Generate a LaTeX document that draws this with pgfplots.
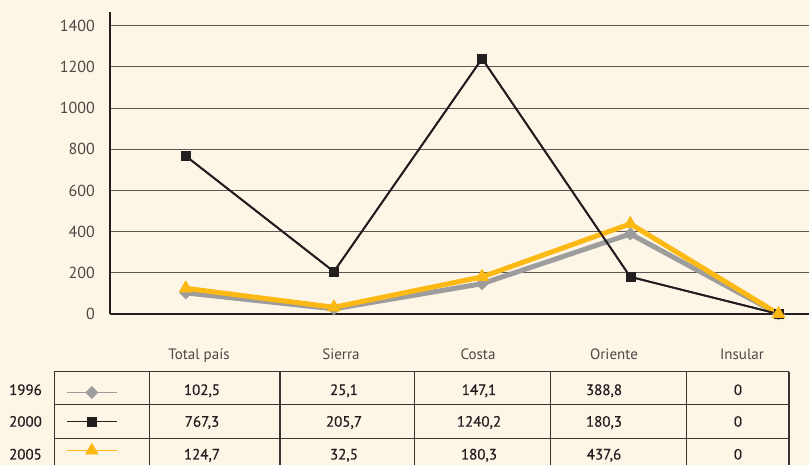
\documentclass[border=0pt]{standalone}
\usepackage{fontspec}
\setmainfont{PT Sans}
\newfontfamily\medfont{PT Sans}[FakeBold=0.5]
\usepackage{pgfplots}
\pgfplotsset{compat=1.18}
\definecolor{bg}{HTML}{FDF5E6}
\definecolor{grayS}{HTML}{9D9D9D}
\definecolor{blackS}{HTML}{231F20}
\definecolor{yellowS}{HTML}{FDB913}
\definecolor{gridc}{HTML}{5E5753}
\definecolor{txt}{HTML}{4F4745}
\definecolor{tablec}{HTML}{3B3331}
\begin{document}
\begin{tikzpicture}[x=1pt,y=1pt]
\fill[bg] (0,0) rectangle (809,465);
\path[use as bounding box] (0,0) rectangle (809,465);
\begin{axis}[
  at={(110pt,151pt)}, anchor=south west,
  scale only axis, width=699pt, height=302.3pt,
  xmin=-0.511, xmax=4.206, ymin=0, ymax=1468,
  axis x line*=bottom, axis y line*=left,
  axis line style={line width=1.8pt, blackS, -},
  xtick=\empty,
  ytick={0,200,...,1400},
  ymajorgrids, grid style={line width=1.1pt, gridc},
  major tick length=0pt,
  yticklabel style={font=\fontsize{16}{16}\selectfont, text=txt, inner sep=0pt, anchor=east, xshift=-15pt},
  /pgf/number format/assume math mode=true,
  /pgf/number format/1000 sep={},
  clip=false,
  legend style={at={(axis description cs:-0.06295,-0.2117)}, anchor=north west, draw=none, fill=none, inner sep=0pt, outer sep=0pt, row sep=0pt, column sep=0pt,
    nodes={inner sep=0pt, outer sep=0pt, minimum height=29pt, minimum width=0pt}},
  legend image code/.code={\draw[#1, line width=1.6pt, mark repeat=2, mark phase=2] plot coordinates {(0pt,0pt) (25pt,0pt) (50pt,0pt)};},
]
% 1996
\addplot[grayS, line width=5pt, line join=round, mark=square*, mark size=4.4pt,
  mark options={rotate=45, line width=0.3pt, fill=grayS, draw=grayS}]
  coordinates {(0,102.5) (1,25.1) (2,147.1) (3,388.8) (4,0)};
\addlegendentry{}
% 2000
\addplot[blackS, line width=1.8pt, mark=square*, mark size=4.5pt,
  mark options={line width=0.3pt, fill=blackS, draw=blackS}]
  coordinates {(0,767.3) (1,205.7) (2,1240.2) (3,180.3) (4,0)};
\addlegendentry{}
% 2005
\addplot[yellowS, line width=5pt, line join=round, mark=triangle*, mark size=7.5pt,
  mark options={line width=0.3pt, fill=yellowS, draw=yellowS}]
  coordinates {(0,124.7) (1,32.5) (2,180.3) (3,437.6) (4,0)};
\addlegendentry{}
% black line drawn again on top of the thick lines
\addplot[blackS, line width=1.8pt, no marks, forget plot]
  coordinates {(0,767.3) (1,205.7) (2,1240.2) (3,180.3) (4,0)};
% yellow triangles on top
\addplot[only marks, mark=triangle*, mark size=7.5pt, forget plot,
  mark options={line width=0.3pt, fill=yellowS, draw=yellowS}]
  coordinates {(0,124.7) (1,32.5) (2,180.3) (3,437.6) (4,0)};
\end{axis}
% data table
\begin{scope}[line width=1.2pt, tablec]
\draw (54.3,93.3) -- (789,93.3);
\draw (54.3,60.7) -- (789,60.7);
\draw (54.3,26.7) -- (789,26.7);
\foreach \xx in {54.3,149.3,280,414.3,550.7,686.7,789} {\draw (\xx,93.3) -- (\xx,0);}
\end{scope}
\begin{scope}[every node/.style={anchor=base, inner sep=0pt, font=\fontsize{15}{15}\selectfont, text=txt}]
\node at (199,105.7) {Total país};
\node at (341,105.7) {Sierra};
\node at (478,105.7) {Costa};
\node at (614,105.7) {Oriente};
\node at (742,105.7) {Insular};
\end{scope}
\begin{scope}[every node/.style={anchor=base, inner sep=0pt, font=\medfont\fontsize{15}{15}\selectfont, text=blackS}]
\node at (25.5,70) {1996};
\node at (25.5,38.3) {2000};
\node at (25.5,5.5) {2005};
\node at (202,70) {102,5};
\node at (344,70) {25,1};
\node at (479,70) {147,1};
\node at (604,70) {388,8};
\node at (738,70) {0};
\node at (202,38.3) {767,3};
\node at (344,38.3) {205,7};
\node at (479,38.3) {1240,2};
\node at (604,38.3) {180,3};
\node at (738,38.3) {0};
\node at (202,5.5) {124,7};
\node at (344,5.5) {32,5};
\node at (479,5.5) {180,3};
\node at (604,5.5) {437,6};
\node at (738,5.5) {0};
\end{scope}
\end{tikzpicture}
\end{document}
